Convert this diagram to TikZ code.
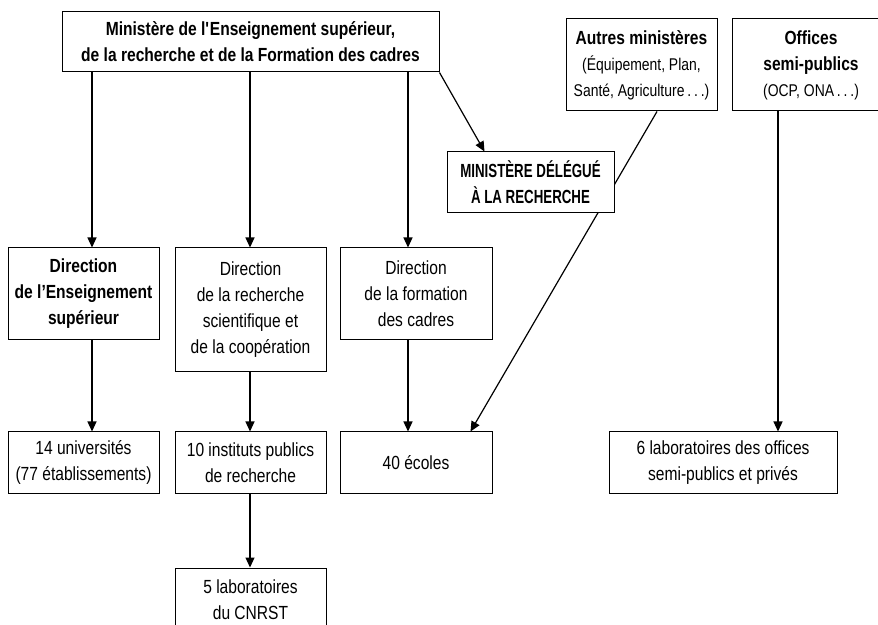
\documentclass[tikz,border=0pt]{standalone}
\usepackage{fontspec}
\setmainfont{Liberation Sans}[FakeStretch=0.82]
\usetikzlibrary{arrows.meta,calc,backgrounds}

\tikzset{
	box/.style={rectangle, draw, fill=white, align=center, inner sep=1pt, line width=0.5pt,
		font=\fontsize{9.5}{13}\selectfont},
	link/.style={-{Triangle[width=4.5pt,length=5pt]}, line width=0.6pt},
}
\newcommand{\petit}{\fontsize{8.5}{11}\selectfont}
\newcommand{\serre}{\addfontfeature{FakeStretch=0.7}}

\begin{document}
\begin{tikzpicture}[x=0.5pt, y=-0.5pt]

\clip (0,0) rectangle (878,625);

\node(top) [box, minimum width=188.5pt, minimum height=30pt] at (250.5, 42) {\bfseries
	Minist\`ere de l\textquotesingle Enseignement sup\'erieur,\\
	\bfseries de la recherche et de la Formation des cadres};

\node(autres) [box, minimum width=75.5pt, minimum height=46pt] at (641.5, 65) {
	\textbf{Autres minist\`eres}\\
	{\petit (\'Equipement, Plan,}\\
	{\petit Sant\'e, Agriculture\,.\,.\,.)}};

\node(offices) [box, minimum width=79pt, minimum height=46pt] at (811, 65) {
	\textbf{Offices}\\
	\textbf{semi-publics}\\
	{\petit (OCP, ONA\,.\,.\,.)}};

\node(delegue) [box, minimum width=83.5pt, minimum height=30.5pt] at (530.5, 182.5) {\bfseries\serre
	MINIST\`ERE D\'EL\'EGU\'E\\
	\bfseries\serre \`A LA RECHERCHE};

% directions
\node(dirEns) [box, minimum width=75.5pt, minimum height=46pt] at (83.5, 294) {\bfseries
	Direction\\
	\bfseries de l’Enseignement\\
	\bfseries sup\'erieur};

\node(dirRech) [box, minimum width=75.5pt, minimum height=62pt] at (250.5, 310) {
	Direction\\
	de la recherche\\
	scientifique et\\
	de la coop\'eration};

\node(dirForm) [box, minimum width=76pt, minimum height=46pt] at (416, 294) {
	Direction\\
	de la formation\\
	des cadres};

% etablissements
\node(univ) [box, minimum width=75.5pt, minimum height=30.5pt] at (83.5, 462.5) {
	14 universit\'es\\
	(77 \'etablissements)};

\node(instituts) [box, minimum width=75.5pt, minimum height=30.5pt] at (250.5, 462.5) {
	10 instituts publics\\
	de recherche};

\node(ecoles) [box, minimum width=76pt, minimum height=30.5pt] at (416, 462.5) {40 \'ecoles};

\node(labos) [box, minimum width=114pt, minimum height=30.5pt] at (723, 462.5) {
	6 laboratoires des offices\\
	semi-publics et priv\'es};

\node(cnrst) [box, minimum width=75.5pt, minimum height=32pt] at (250.5, 600) {
	5 laboratoires\\
	du CNRST};

\coordinate(c1) at (92, 0);
\coordinate(c2) at (250, 0);
\coordinate(c3) at (408, 0);
\coordinate(c4) at (778, 0);

\draw [link] (top.south -| c1) -- (dirEns.north -| c1);
\draw [link] (top.south -| c2) -- (dirRech.north -| c2);
\draw [link] (top.south -| c3) -- (dirForm.north -| c3);
\draw [link] (top.south east) -- ($(delegue.north west)+(38,0)$);

\draw [link] (dirEns.south -| c1) -- (univ.north -| c1);
\draw [link] (dirRech.south -| c2) -- (instituts.north -| c2);
\draw [link] (instituts.south -| c2) -- (cnrst.north -| c2);
\draw [link] (dirForm.south -| c3) -- (ecoles.north -| c3);
\draw [link] (offices.south -| c4) -- (labos.north -| c4);

\begin{scope}[on background layer]
\draw [link] ($(autres.south)+(15.5,0)$) -- ($(ecoles.north east)+(-22,0)$);
\end{scope}

\end{tikzpicture}
\end{document}
